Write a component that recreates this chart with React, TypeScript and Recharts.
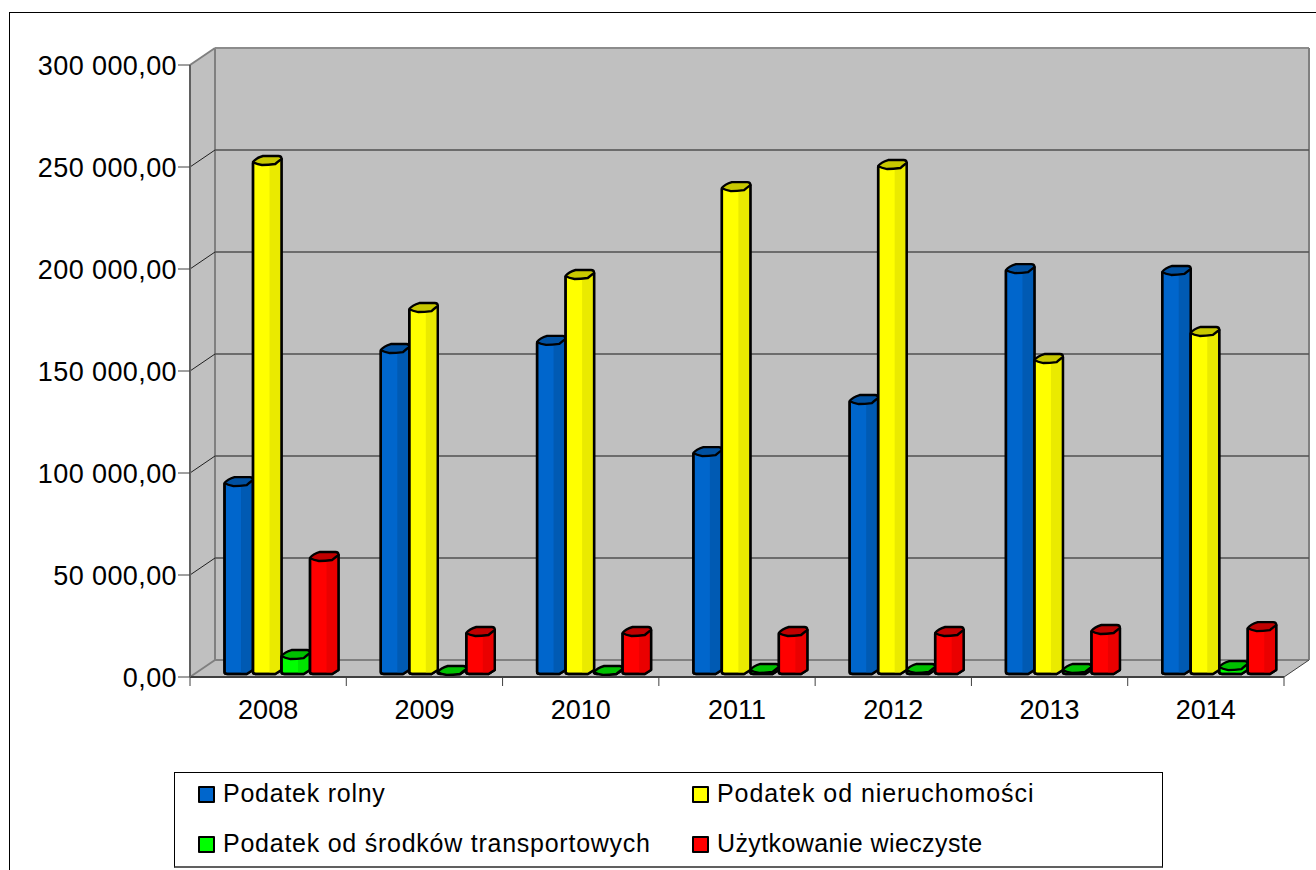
import { BarChart, Bar, XAxis, YAxis, CartesianGrid } from 'recharts';

const categories = ['2008', '2009', '2010', '2011', '2012', '2013', '2014'];
const rolny = [93100, 158300, 162300, 107800, 133300, 197500, 196600];
const nieruchomosci = [250500, 178400, 194600, 237700, 248500, 153400, 166700];
const transport = [8300, 500, 500, 1500, 1500, 1500, 2900];
const wieczyste = [56400, 19600, 19600, 19600, 19600, 20600, 22000];
const yTicks = [0, 50000, 100000, 150000, 200000, 250000, 300000];

const seriesInfo = [
  { key: 'rolny', name: 'Podatek rolny', front: '#0066cc', side: '#0058ae', top: '#0050a0', spacing: 0.75 },
  { key: 'nieruchomosci', name: 'Podatek od nieruchomości', front: '#ffff00', side: '#e6e600', top: '#c8c800', spacing: 0.95 },
  { key: 'transport', name: 'Podatek od środków transportowych', front: '#00ff00', side: '#00e000', top: '#00c000', spacing: 0.75 },
  { key: 'wieczyste', name: 'Użytkowanie wieczyste', front: '#ff0000', side: '#e60000', top: '#c00000', spacing: 0.4 },
];

const chartData = categories.map((year, i) => ({
  year,
  rolny: rolny[i],
  nieruchomosci: nieruchomosci[i],
  transport: transport[i],
  wieczyste: wieczyste[i],
}));

const FONT = '"Liberation Sans", Arial, sans-serif';
const PLOT = { left: 190, right: 1284, top: 65, bottom: 677 };
const DEPTH_X = 25;
const DEPTH_Y = 17;
const BAND = (PLOT.right - PLOT.left) / categories.length;

// the 3D box sits behind the chart svg, the grid layer of the chart draws over it
function Walls() {
  const { left, right, top, bottom } = PLOT;
  const bx = left + DEPTH_X;
  const by = bottom - DEPTH_Y;
  const ty = top - DEPTH_Y;
  return (
    <svg width={1316} height={870} style={{ position: 'absolute', left: 0, top: 0 }}>
      <polygon points={`${bx},${ty} ${right + DEPTH_X},${ty} ${right + DEPTH_X},${by} ${bx},${by}`} fill="#c0c0c0" />
      <polygon points={`${left},${top} ${bx},${ty} ${bx},${by} ${left},${bottom}`} fill="#c0c0c0" />
      <polygon points={`${left},${bottom} ${bx},${by} ${right + DEPTH_X},${by} ${right},${bottom}`} fill="#c0c0c0" />
      <line x1={bx} y1={ty} x2={bx} y2={by} stroke="#808080" strokeWidth={2} />
      <line x1={bx} y1={ty} x2={right + DEPTH_X} y2={ty} stroke="#8c8c8c" strokeWidth={2} />
      <line x1={bx} y1={by} x2={right + DEPTH_X} y2={by} stroke="#808080" strokeWidth={2} />
      <line x1={right + DEPTH_X} y1={ty} x2={right + DEPTH_X} y2={by} stroke="#808080" strokeWidth={2} />
      <line x1={left} y1={bottom} x2={bx} y2={by} stroke="#808080" strokeWidth={2} />
      <line x1={left} y1={top} x2={bx} y2={ty} stroke="#808080" strokeWidth={2} />
      <line x1={right} y1={bottom} x2={right + DEPTH_X} y2={by} stroke="#404040" strokeWidth={1} />
    </svg>
  );
}

function GridLine(props: any) {
  const { x1, x2, y1, key } = props;
  if (y1 <= PLOT.top + 1 || y1 >= PLOT.bottom - 1) return <g key={key} />;
  return (
    <g key={key}>
      <line x1={x1 + DEPTH_X} x2={x2 + DEPTH_X} y1={y1 - DEPTH_Y} y2={y1 - DEPTH_Y} stroke="#505050" strokeWidth={1.4} />
      <line x1={x1} x2={x1 + DEPTH_X} y1={y1} y2={y1 - DEPTH_Y} stroke="#202020" strokeWidth={1} />
    </g>
  );
}

function XTick(props: any) {
  const { x, y, payload, index } = props;
  const edge = x - BAND / 2;
  return (
    <g>
      <line x1={edge} x2={edge} y1={PLOT.bottom} y2={PLOT.bottom + 9} stroke="#404040" />
      {index === categories.length - 1 && (
        <line x1={edge + BAND} x2={edge + BAND} y1={PLOT.bottom} y2={PLOT.bottom + 9} stroke="#404040" />
      )}
      <text x={x} y={y + 34} textAnchor="middle" fontSize={27} fontFamily={FONT} fill="#000">
        {payload.value}
      </text>
    </g>
  );
}

function formatMoney(value: number) {
  const head = Math.floor(value / 1000);
  return value === 0 ? '0,00' : `${head} 000,00`;
}

function makeBarShape(info: (typeof seriesInfo)[number]) {
  return function BarShape(props: any) {
    const { x, y, width, height } = props;
    const l = x + 13.5;
    const w = width;
    const r = l + w;
    const base = y + height - 3;
    const t = y - 5;
    const sideX = l + w * 0.78;
    const bottom = Math.max(base, t + 2);
    const body = `M${l},${t + 2} L${l},${bottom - 2} Q${l},${bottom} ${l + 3},${bottom} L${sideX},${bottom} L${r},${bottom - 4} L${r},${t - 2} Z`;
    const sideFill = `M${l + w * 0.58},${t + 4} L${r},${t - 2} L${r},${bottom - 4} L${sideX},${bottom} L${l + w * 0.58},${bottom} Z`;
    const cap = `M${l},${t + 1} Q${l + 3},${t - 3} ${l + 10},${t - 5} L${r - 3},${t - 5} Q${r},${t - 5} ${r},${t - 2} Q${r - 4},${t + 1} ${sideX},${t + 3} Q${l + 15},${t + 4} ${l + 9},${t + 4} Q${l + 3},${t + 3} ${l},${t + 1} Z`;
    return (
      <g stroke="#000" strokeWidth={2.4} strokeLinejoin="round">
        <path d={body} fill={info.front} />
        <path d={sideFill} fill={info.side} stroke="none" opacity={0.85} />
        <path d={body} fill="none" />
        <path d={cap} fill={info.top} />
      </g>
    );
  };
}

function LegendBox() {
  const items = seriesInfo.map((s, i) => (
    <div
      key={s.key}
      style={{
        position: 'absolute',
        left: i % 2 === 0 ? 23 : 517,
        top: i < 2 ? -1 : 49,
        height: 42,
        lineHeight: '42px',
        whiteSpace: 'nowrap',
        fontFamily: FONT,
        fontSize: 25,
        letterSpacing: s.spacing,
        color: '#000',
      }}
    >
      <span
        style={{
          display: 'inline-block',
          width: 13,
          height: 13,
          background: s.front,
          border: '2px solid #000',
          borderRadius: 1,
          marginRight: 8,
          verticalAlign: -1,
        }}
      />
      {s.name}
    </div>
  ));
  return (
    <div
      style={{
        position: 'absolute',
        left: 174,
        top: 772,
        width: 989,
        height: 96,
        boxSizing: 'border-box',
        border: '1px solid #000',
        borderBottom: '2px solid #606060',
        background: '#fff',
      }}
    >
      {items}
    </div>
  );
}

export default function App() {
  return (
    <div style={{ position: 'fixed', left: 0, top: 0, width: 1316, height: 870, background: '#fff', overflow: 'hidden' }}>
      <div style={{ position: 'absolute', left: 9, top: 12, width: 1400, height: 900, border: '1px solid #000' }} />
      <Walls />
      <div style={{ position: 'absolute', left: 0, top: 0 }}>
        <BarChart
          width={1316}
          height={870}
          data={chartData}
          margin={{ top: PLOT.top, right: 1316 - PLOT.right, bottom: 870 - PLOT.bottom - 60, left: 0 }}
          barGap={0}
          barCategoryGap={42}
        >
          <CartesianGrid vertical={false} horizontal={GridLine} />
          <XAxis
            dataKey="year"
            height={60}
            tick={XTick}
            tickLine={false}
            axisLine={{ stroke: '#404040', strokeWidth: 2 }}
            interval={0}
          />
          <YAxis
            width={PLOT.left}
            domain={[0, 300000]}
            ticks={yTicks}
            tickFormatter={formatMoney}
            tick={{ fontSize: 27, fontFamily: FONT, fill: '#000', letterSpacing: 0.4 }}
            tickSize={12}
            tickMargin={1}
            tickLine={{ stroke: '#404040' }}
            axisLine={{ stroke: '#606060', strokeWidth: 2 }}
          />
          {seriesInfo.map((s) => (
            <Bar key={s.key} dataKey={s.key} name={s.name} barSize={28.5} shape={makeBarShape(s)} isAnimationActive={false} />
          ))}
        </BarChart>
      </div>
      <LegendBox />
    </div>
  );
}
